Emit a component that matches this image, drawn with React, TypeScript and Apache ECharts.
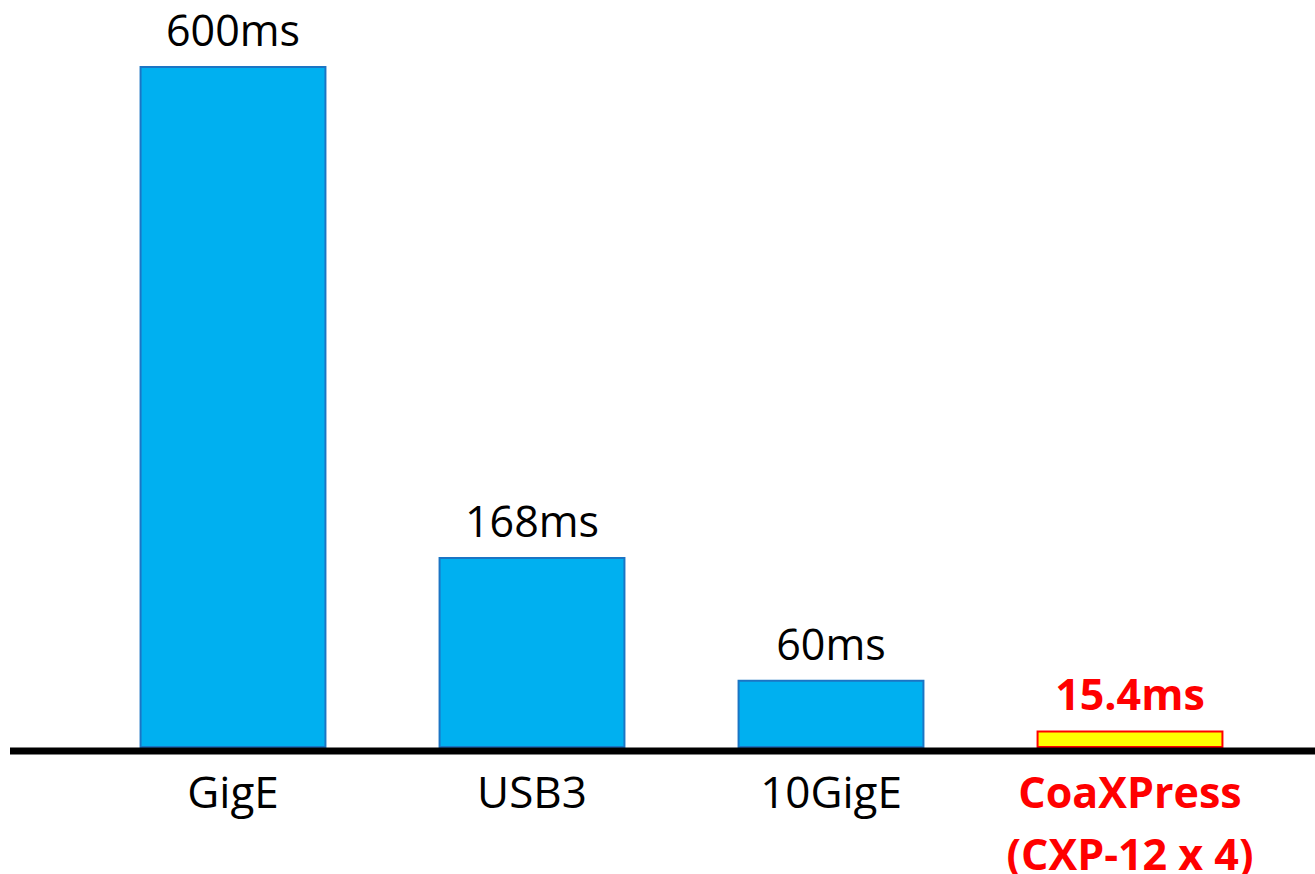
import React, { useEffect, useRef } from "react";
import * as echarts from "echarts";

// Interface names and their transfer latencies (ms)
const categories = ["GigE", "USB3", "10GigE", "CoaXPress\n(CXP-12 x 4)"];
const latencyMs = [600, 168, 60, 15.4];
// Which interface is highlighted
const highlighted = ["CoaXPress\n(CXP-12 x 4)"];

const FONT = "'Open Sans', 'Noto Sans', sans-serif";

export default function App() {
  const ref = useRef<HTMLDivElement>(null);

  useEffect(() => {
    document.body.style.margin = "0";
    if (!ref.current) return;
    const chart = echarts.init(ref.current, undefined, { renderer: "svg" });

    const data = latencyMs.map((v, i) => {
      const hot = highlighted.includes(categories[i]);
      return {
        value: v,
        itemStyle: hot
          ? { color: "#FFFF00", borderColor: "#FF0000", borderWidth: 2 }
          : { color: "#00B0F0", borderColor: "#1B75C4", borderWidth: 2 },
        label: hot
          ? { color: "#FF0000", fontWeight: "bold" as const }
          : { color: "#000000", fontWeight: "normal" as const },
      };
    });

    chart.setOption({
      animation: false,
      backgroundColor: "#ffffff",
      grid: {
        left: 83.5,
        right: 35.5,
        top: 66,
        bottom: 126,
        containLabel: false,
        outerBoundsMode: "none",
      },
      xAxis: {
        type: "category",
        data: categories,
        axisLine: { show: false },
        axisTick: { show: false },
        axisLabel: {
          interval: 0,
          hideOverlap: false,
          margin: 12,
          fontFamily: FONT,
          fontSize: 44,
          lineHeight: 62,
          color: "#000000",
          formatter: (v: string) =>
            highlighted.includes(v) ? `{hot|${v.replace("\n", "}\n{hot|")}}` : v,
          rich: {
            hot: {
              fontFamily: FONT,
              fontSize: 43,
              lineHeight: 62,
              fontWeight: "bold",
              color: "#FF0000",
            },
          },
        },
      },
      yAxis: {
        type: "value",
        min: 0,
        max: 600,
        show: false,
        splitLine: { show: false },
      },
      series: [
        {
          type: "bar",
          data,
          barWidth: "62.5%",
          label: {
            show: true,
            position: "top",
            distance: 15,
            fontFamily: FONT,
            fontSize: 43,
            formatter: (p: any) => `${p.value}ms`,
          },
        },
      ],
    });

    // Baseline rule spanning the full width at value 0
    const y0 = chart.convertToPixel({ yAxisIndex: 0 }, 0) as number;
    chart.setOption({
      graphic: [
        {
          type: "line",
          shape: { x1: 10, y1: y0 + 3, x2: 1315, y2: y0 + 3 },
          style: { stroke: "#000000", lineWidth: 7 },
          z: 10,
        },
      ],
    });

    return () => chart.dispose();
  }, []);

  return <div ref={ref} style={{ width: 1315, height: 874 }} />;
}
